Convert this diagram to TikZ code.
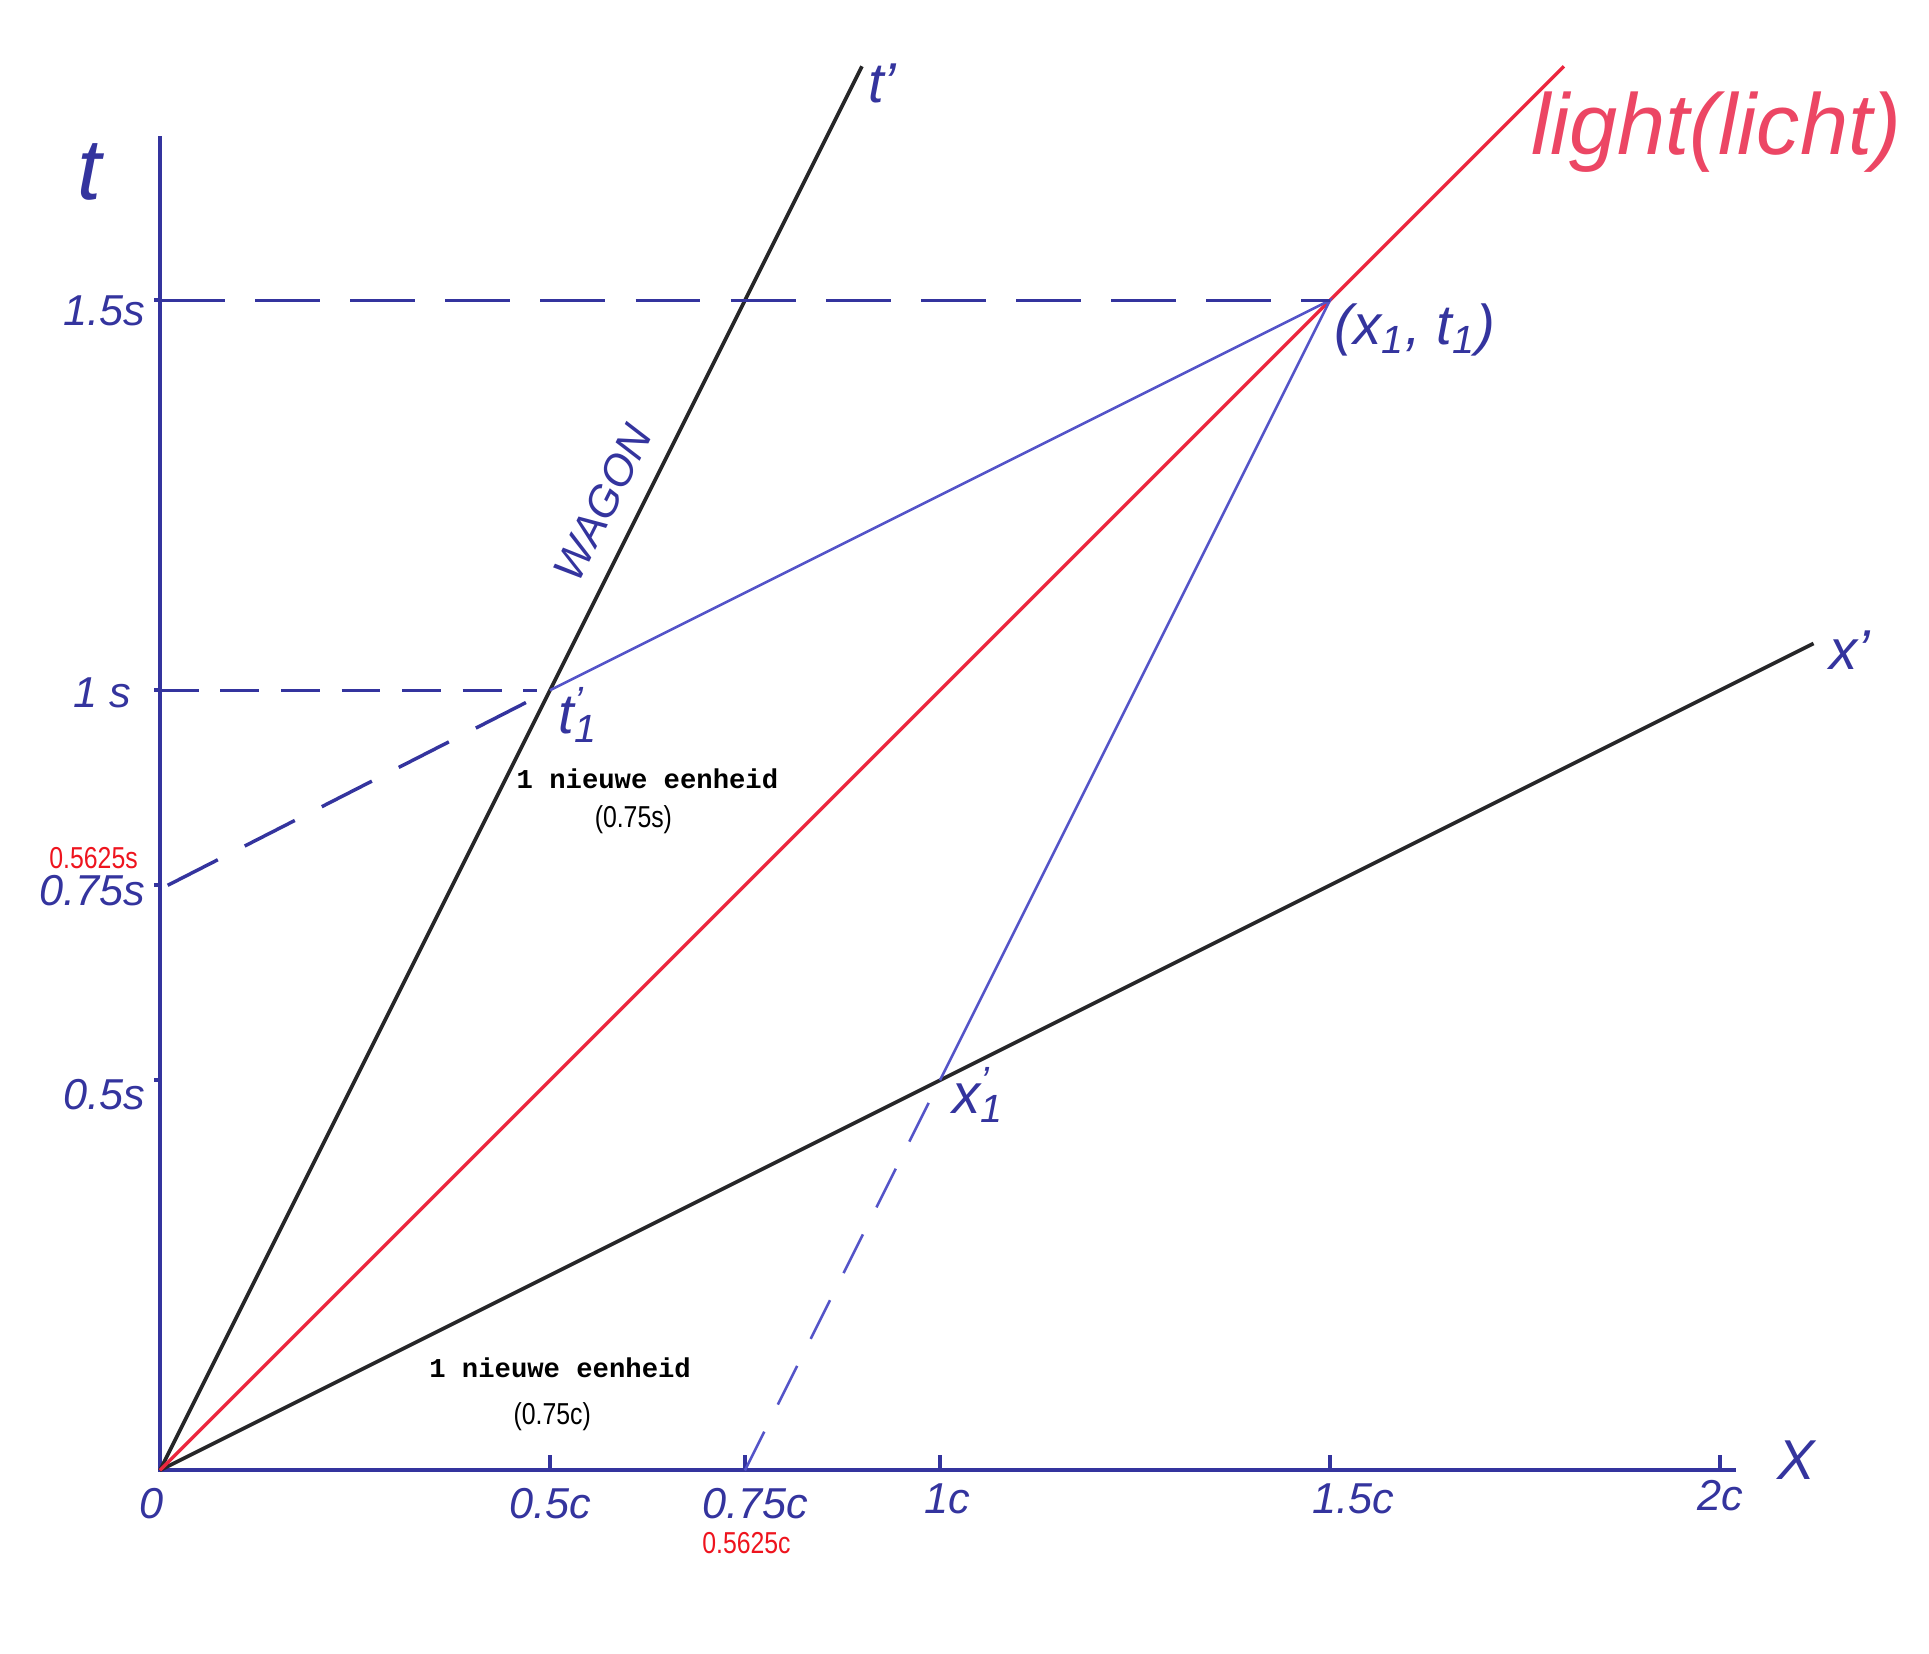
\documentclass[tikz,border=0pt]{standalone}
\usepackage{fontspec}
\setmainfont{Liberation Sans}
\newfontfamily\narrowfont[FakeStretch=0.82]{Liberation Sans}
\newfontfamily\typefont{Liberation Mono}
\definecolor{penblue}{RGB}{52,52,158}
\definecolor{linkblue}{RGB}{84,84,200}
\definecolor{inkblack}{RGB}{38,38,40}
\definecolor{inkred}{RGB}{236,38,62}
\definecolor{handred}{RGB}{236,70,100}
\definecolor{valred}{RGB}{238,20,30}
\tikzset{
  axisline/.style={draw=penblue, line width=0.9pt},
  world/.style={draw=inkblack, line width=0.85pt},
  ray/.style={draw=inkred, line width=0.75pt},
  guide/.style={draw=linkblue, line width=0.6pt},
  longdash/.style={draw=penblue, line width=0.8pt, dash pattern=on 15pt off 7pt},
  shortdash/.style={draw=penblue, line width=0.8pt, dash pattern=on 9pt off 5pt},
  slantdash/.style={draw=penblue, line width=0.8pt, dash pattern=on 13pt off 7pt},
  thindash/.style={draw=linkblue, line width=0.6pt, dash pattern=on 10pt off 7pt},
  hand/.style={text=penblue, inner sep=1pt, font=\itshape\fontsize{10}{12}\selectfont},
  biglbl/.style={hand, font=\itshape\fontsize{13}{15}\selectfont},
  note/.style={inner sep=1pt, font=\typefont\bfseries\fontsize{6.3}{7}\selectfont},
  unitlbl/.style={inner sep=1pt, font=\narrowfont\fontsize{7}{8}\selectfont},
  redval/.style={unitlbl, text=valred},
}
\begin{document}
\begin{tikzpicture}[x=6.34cm, y=6.34cm]
  \useasboundingbox (-0.205,-0.235) rectangle (2.268,1.885);
  \coordinate (O) at (0,0);
  \coordinate (T) at (0,1.71);
  \coordinate (X) at (2.02,0);
  \coordinate (Tp) at (0.9,1.8);
  \coordinate (Xp) at (2.12,1.06);
  \coordinate (L) at (1.8,1.8);
  \coordinate (E) at (1.5,1.5);
  \coordinate (A) at (0.5,1);
  \coordinate (B) at (1,0.5);
  \coordinate (S15) at (0,1.5);
  \coordinate (S1) at (0,1);
  \coordinate (S75) at (0.01,0.75);
  \coordinate (C75) at (0.75,0);
  \draw[axisline] (T) -- (O) -- (X);
  \foreach \x in {0.5,0.75,1,1.5,2}
    \draw[axisline] (\x,0) -- (\x,0.02);
  \foreach \y in {0.5,0.75,1,1.5}
    \draw[axisline] (0,\y) -- (-0.008,\y);
  \draw[world] (O) -- (Tp);
  \draw[world] (O) -- (Xp);
  \draw[ray] (O) -- (L);
  \draw[guide] (A) -- (E) -- (B);
  \draw[longdash] (S15) -- (E);
  \draw[shortdash, shorten >=3pt] (S1) -- (A);
  \draw[slantdash, shorten >=5pt] (S75) -- (A);
  \draw[thindash, shorten >=5pt] (C75) -- (B);
  \node[hand, rotate=63.4] (W) at (0.568,1.24) {WAGON};
  \node[hand, font=\itshape\fontsize{20}{24}\selectfont] (tlbl) at (-0.09,1.664) {t};
  \node[hand, anchor=east] (s15) at (-0.012,1.486) {1.5s};
  \node[hand, anchor=east] (s1) at (-0.03,0.997) {1 s};
  \node[hand, anchor=east] (s075) at (-0.012,0.743) {0.75s};
  \node[hand, anchor=east] (s05) at (-0.012,0.482) {0.5s};
  \node[redval] (r1) at (-0.085,0.785) {0.5625s};
  \node[hand] (c0) at (-0.011,-0.043) {0};
  \node[hand] (c05) at (0.5,-0.043) {0.5c};
  \node[hand] (c075) at (0.763,-0.043) {0.75c};
  \node[hand] (c1) at (1.009,-0.037) {1c};
  \node[hand] (c15) at (1.53,-0.037) {1.5c};
  \node[hand] (c2) at (2.0,-0.033) {2c};
  \node[redval] (r2) at (0.752,-0.093) {0.5625c};
  \node[biglbl] (xlbl) at (2.098,0.013) {X};
  \node[biglbl] (tplbl) at (0.926,1.778) {t'};
  \node[biglbl] (xplbl) at (2.166,1.052) {x'};
  \node[hand, text=handred, font=\itshape\fontsize{20}{24}\selectfont] (llbl) at (1.995,1.716) {light(licht)};
  \node[biglbl] (elbl) at (1.609,1.462) {(x\textsubscript{1}, t\textsubscript{1})};
  \node[biglbl] (albl) at (0.528,0.968) {t\rlap{\textsubscript{1}}\textsuperscript{'}};
  \node[biglbl] (blbl) at (1.041,0.481) {x\rlap{\textsubscript{1}}\textsuperscript{'}};
  \node[note] (n1) at (0.625,0.886) {1 nieuwe eenheid};
  \node[unitlbl] (u1) at (0.607,0.834) {(0.75s)};
  \node[note] (n2) at (0.513,0.131) {1 nieuwe eenheid};
  \node[unitlbl] (u2) at (0.503,0.069) {(0.75c)};
\end{tikzpicture}
\end{document}
